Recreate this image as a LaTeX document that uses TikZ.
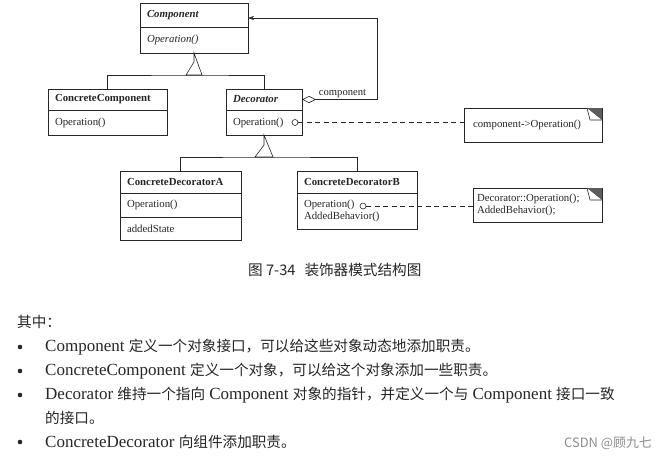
\documentclass[tikz,border=0pt]{standalone}
\usepackage{fontspec}
\setmainfont{Liberation Serif}
\newfontfamily\cjk[Scale=0.86]{Noto Sans CJK SC}
\usetikzlibrary{arrows.meta,positioning}

\definecolor{ink}{HTML}{262626}
\definecolor{foldgray}{HTML}{5C5C5C}
\definecolor{wmgray}{HTML}{8C8C8C}

\begin{document}
\begin{tikzpicture}[x=1pt,y=-1pt,
  every node/.style={text=ink},
  link/.style={draw=ink, line width=0.6pt},
  dep/.style={link, dash pattern=on 5pt off 3.5pt},
  cell/.style 2 args={draw=ink, line width=0.6pt, outer sep=0pt, anchor=north west, inner xsep=7pt, inner ysep=0pt,
    align=left, text width=#1, minimum height=#2, font=\fontsize{10.8}{12.5}\selectfont},
  clsname/.style={font=\fontsize{10.8}{12}\selectfont\bfseries},
  absname/.style={font=\fontsize{10.8}{12}\selectfont\bfseries\itshape},
  port/.style={draw=ink, line width=0.6pt, circle, inner sep=0pt, minimum size=6pt, fill=white},
  note/.style={anchor=north west, outer sep=0pt, inner ysep=0pt, align=left, minimum height=34, font=\fontsize{10.8}{11.5}\selectfont},
  body/.style={anchor=west, inner sep=0pt, font=\fontsize{17}{20}\selectfont},
]

\fill[white] (0,0) rectangle (660,458);
\useasboundingbox (0,0) rectangle (660,458);

\node[cell={94pt}{24}, absname] (comp) at (140,3) {Component};
\node[cell={94pt}{26}] (compop) at (comp.south west) {\itshape Operation()};

\node[cell={105pt}{21}, clsname] (cc) at (48,89) {ConcreteComponent};
\node[cell={105pt}{25}] (ccop) at (cc.south west) {Operation()};

\node[cell={62pt}{21}, absname] (dec) at (226,89) {Decorator};
\node[cell={62pt}{25}] (decop) at (dec.south west) {Operation()};

\node[cell={107pt}{22}, clsname] (cda) at (120,171) {ConcreteDecoratorA};
\node[cell={107pt}{24}] (cdaop) at (cda.south west) {Operation()};
\node[cell={107pt}{23}] (cdast) at (cdaop.south west) {addedState};

\node[cell={106pt}{22}, clsname] (cdb) at (297,171) {ConcreteDecoratorB};
\node[cell={106pt}{36}] (cdbop) at (cdb.south west) {Operation()\\AddedBehavior()};

\draw[link] (compop.south) -- ++(0,9) coordinate (t1) -- ++(-8,13) -- ++(16,0) -- cycle;
\path (t1) ++(0,13) coordinate (t1b);
\draw[link] (cc.north) |- (t1b) -| (dec.north);

\draw[link] (decop.south) -- ++(0,10) coordinate (t2) -- ++(-9,12) -- ++(18,0) -- cycle;
\path (t2) ++(0,12) coordinate (t2b);
\draw[link] (cda.north) |- (t2b) -| (cdb.north);

\draw[link, {Diamond[open,length=14pt,width=7pt]}-{Stealth[length=6pt,width=4pt]}]
  (dec.east) -- node[above, pos=0.54, inner sep=1.5pt, font=\fontsize{10.6}{12}\selectfont] {component}
  ++(75,0) |- ([yshift=-3pt]comp.east);

\node[note, text width=120pt, inner xsep=9pt] (n1) at (464,108) {component->Operation()};
\node[note, text width=121pt, inner xsep=4pt] (n2) at (473,188) {Decorator::Operation();\\AddedBehavior();};

\foreach \n in {n1,n2} {
  \draw[link] (\n.north west) rectangle (\n.south east);
  \fill[foldgray] ([xshift=-15pt]\n.north east) -- (\n.north east) -- ([yshift=-12pt]\n.north east) -- cycle;
  \draw[link] ([xshift=-15pt]\n.north east) -- ([xshift=-12pt,yshift=-12pt]\n.north east) -- ([yshift=-12pt]\n.north east);
}

\node[port] (p1) at ([xshift=-7pt]decop.east) {};
\draw[dep] (p1) -- (p1 -| n1.west);
\node[port] (p2) at (363,206) {};
\draw[dep] (p2) -- (p2 -| n2.west);

\node[anchor=west, inner sep=0pt, font=\fontsize{17}{20}\selectfont\cjk] (cap) at (248,270) {图 7-34\hspace{9pt}装饰器模式结构图};

\node[body] (hd) at (17,322) {\cjk 其中：};
\node[body] (l1) at (45,347) {Component {\cjk 定义一个对象接口，可以给这些对象动态地添加职责。}};
\node[body] (l2) at (45,371) {ConcreteComponent {\cjk 定义一个对象，可以给这个对象添加一些职责。}};
\node[body] (l3) at (45,395) {Decorator {\cjk 维持一个指向} Component {\cjk 对象的指针，并定义一个与} Component {\cjk 接口一致}};
\node[body] (l3b) at (45,418) {\cjk 的接口。};
\node[body] (l4) at (45,442) {ConcreteDecorator {\cjk 向组件添加职责。}};

\foreach \l in {l1,l2,l3,l4}
    \fill[ink] ([xshift=-25pt]\l.west) circle (2.3pt);

\node[anchor=east, inner sep=0pt, text=wmgray, font=\fontsize{15}{18}\selectfont\cjk] (wm) at (652,443) {CSDN @顾九七};

\end{tikzpicture}
\end{document}
